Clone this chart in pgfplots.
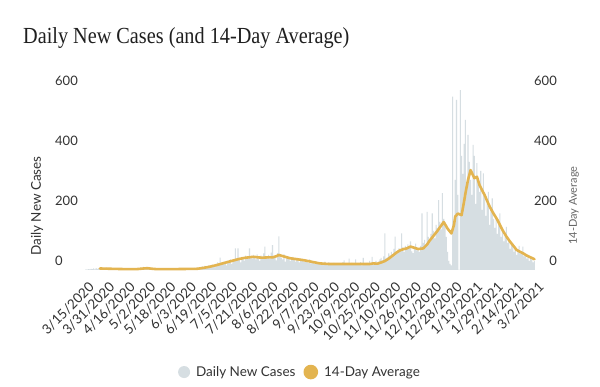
\documentclass[border=0pt]{standalone}
\usepackage{pgfplots}
\pgfplotsset{compat=1.18}
\usepackage{fontspec}
\setmainfont{Lato}
\newfontfamily\titlefont[FakeStretch=0.88]{Liberation Serif}
\definecolor{barcol}{RGB}{214,222,226}
\definecolor{linecol}{RGB}{227,180,80}
\definecolor{labgray}{RGB}{51,51,51}
\definecolor{lab2}{RGB}{102,102,102}
\begin{document}
\begin{tikzpicture}[x=1pt,y=1pt]
\useasboundingbox (0,0) rectangle (600,387);
\fill[white] (0,0) rectangle (600,387);
\node[anchor=base west, inner sep=0pt, font=\titlefont\fontsize{23}{27}\selectfont, text=black!88] at (23,343.7) {Daily New Cases (and 14-Day Average)};
\begin{axis}[
  at={(83.4pt,117pt)}, anchor=south west, scale only axis, width=453.6pt, height=180pt,
  xmin=-2, xmax=353, ymin=0, ymax=600, clip=false,
  axis line style={draw=none}, major tick length=0pt,
  /pgf/number format/assume math mode=true,
  xtick={0,16,...,352},
  xticklabels={3/15/2020,3/31/2020,4/16/2020,5/2/2020,5/18/2020,6/3/2020,6/19/2020,7/5/2020,7/21/2020,8/6/2020,8/22/2020,9/7/2020,9/23/2020,10/9/2020,10/25/2020,11/10/2020,11/26/2020,12/12/2020,12/28/2020,1/13/2021,1/29/2021,2/14/2021,3/2/2021},
  xticklabel style={xshift=2pt, yshift=-11pt, rotate=45, anchor=north east, inner sep=0pt, font=\fontsize{13.5}{15}\selectfont, text=labgray},
  ytick=\empty,
  ylabel={Daily New Cases},
  ylabel style={at={(axis description cs:-0.1023,0.3556)}, anchor=center, font=\fontsize{13.5}{15}\selectfont, text=labgray},
  legend style={at={(0.4775,-0.567)}, anchor=center, draw=none, fill=none, font=\fontsize{13.5}{15}\selectfont, text=labgray, legend columns=2, /tikz/every even column/.append style={column sep=6pt}},
  legend cell align=left,
]
\addplot[ybar, bar width=0.85, fill=barcol, draw=none, legend image code/.code={\fill[barcol] (6pt,0pt) circle (6pt); \path (16pt,0pt);}] coordinates {
(0,2)(1,1)(2,3)(3,2)(4,4)(5,3)(6,5)(7,2)(8,6)(9,4)(10,5)
(11,6)(12,4)(13,7)(14,5)(15,3)(16,8)(17,4)(18,2)(19,5)(20,6)
(21,3)(22,4)(23,2)(24,5)(25,3)(26,1)(27,4)(28,3)(29,2)(30,5)
(31,3)(32,2)(33,4)(34,1)(35,3)(36,2)(37,5)(38,3)(39,2)(40,4)
(41,3)(42,5)(43,8)(44,6)(45,10)(46,7)(47,9)(48,6)(49,4)(50,5)
(51,3)(52,2)(53,4)(54,3)(55,1)(56,2)(57,3)(58,4)(59,2)(60,3)
(61,2)(62,4)(63,1)(64,3)(65,2)(66,3)(67,5)(68,2)(69,1)(70,3)
(71,2)(72,4)(73,3)(74,1)(75,3)(76,2)(77,4)(78,3)(79,5)(80,2)
(81,4)(82,3)(83,6)(84,5)(85,7)(86,4)(87,8)
(88,6)(89,9)(90,5)(91,12)(92,8)(93,14)(94,10)(95,7)(96,15)(97,13)
(98,11)(99,18)(100,14)(101,9)(102,20)(103,25)(104,16)(105,41)(106,22)(107,19)
(108,28)(109,24)(110,15)(111,30)(112,27)(113,35)(114,20)(115,26)(116,33)(117,72)
(118,30)(119,72)(120,38)(121,25)(122,44)(123,40)(124,31)(125,48)(126,36)(127,42)
(128,72)(129,45)(130,38)(131,50)
(132,40)(133,35)(134,52)(135,46)(136,30)(137,48)(138,42)(139,55)(140,78)(141,38)
(142,44)(143,50)(144,36)(145,58)(146,83)(147,40)(148,45)(149,32)(150,56)(151,112)
(152,48)(153,40)(154,35)(155,52)(156,28)(157,45)(158,38)(159,42)(160,30)(161,36)
(162,44)(163,33)(164,28)(165,40)(166,35)(167,25)(168,38)(169,30)(170,36)(171,27)
(172,32)(173,28)(174,24)(175,35)(176,22)(177,30)(178,26)(179,20)(180,28)(181,24)
(182,22)(183,26)(184,18)(185,24)(186,20)(187,28)(188,16)(189,22)(190,25)(191,19)
(192,21)(193,18)(194,24)(195,20)(196,17)(197,23)(198,19)(199,22)
(200,18)(201,25)(202,32)(203,16)(204,22)(205,20)(206,38)(207,19)(208,24)(209,17)
(210,21)(211,35)(212,18)(213,23)(214,20)(215,26)(216,15)(217,40)(218,22)(219,19)
(220,24)(221,20)(222,30)(223,18)(224,44)(225,22)
(226,25)(227,30)(228,22)(229,28)(230,35)(231,40)(232,32)(233,45)(234,122)(235,38)
(236,42)(237,55)(238,48)(239,60)(240,52)(241,70)(242,111)(243,58)(244,65)(245,72)
(246,68)(247,122)(248,75)(249,60)(250,80)(251,70)
(252,85)(253,78)(254,95)(255,62)(256,56)(257,70)(258,88)(259,65)(260,72)(261,60)(262,80)(263,189)(264,90)
(265,100)(266,85)(267,194)(268,110)(269,95)(270,120)(271,189)(272,130)(273,105)(274,150)(275,140)(276,233)(277,160)(278,135)(279,256)(280,170)
(281,150)(282,110)(283,60)(284,30)(285,20)(286,15)(287,578)(288,150)(289,300)(290,567)(291,250)(292,0)(293,600)
(294,380)(295,320)(296,420)(297,500)(298,280)(299,450)(300,360)
(301,300)(302,250)(303,417)(304,380)(305,220)(306,356)(307,300)(308,260)(309,330)(310,200)
(311,322)(312,240)(313,180)(314,222)(315,260)(316,150)(317,200)(318,239)(319,170)(320,140)
(321,180)(322,120)(323,150)(324,189)(325,110)(326,130)(327,95)(328,120)(329,144)(330,90)
(331,100)(332,70)(333,85)(334,89)(335,60)(336,75)(337,50)(338,68)(339,80)(340,55)
(341,60)(342,78)(343,45)(344,50)(345,38)(346,44)(347,30)(348,42)(349,35)(350,25)(351,30)
};
\addlegendentry{Daily New Cases}
\addplot[linecol, line width=2.6pt, line join=round, line cap=round, legend image code/.code={\fill[linecol] (6pt,0pt) circle (6pt); \path (16pt,0pt);}] coordinates {
(11,5)(20,4)(30,3)(40,3)(45,5)(48,6)(52,4)(55,3)(70,3)(87,4)(92,7)(97,11)(102,16)(107,22)(113,29)(120,37)(125,41)(131,44)(135,42)(138,41)(142,42)(146,42)(149,46)(151,50)(155,45)(160,39)(165,36)(170,33)(176,28)(183,22)(190,20)(199,20)(210,20)(222,20)(225,22)(228,21)(231,25)(234,30)(237,38)(240,48)(243,58)(246,66)(249,70)(251,72)(254,78)(257,74)(260,70)(264,72)(267,85)(269,98)(272,114)(275,130)(277,142)(280,160)(283,138)(286,122)(288,150)(289,178)(291,188)(294,183)(296,230)(297,256)(299,300)(301,333)(303,315)(304,306)(306,311)(308,283)(310,266)(312,250)(314,230)(316,211)(319,188)(322,167)(324,150)(326,133)(329,112)(332,94)(335,78)(337,67)(340,60)(342,56)(345,48)(348,42)(351,36)
};
\addlegendentry{14-Day Average}
\end{axis}
% right-hand axis: 14-day average scale
\begin{axis}[
  at={(83.4pt,117pt)}, anchor=south west, scale only axis, width=453.6pt, height=180pt,
  xmin=-2, xmax=353, ymin=0, ymax=600,
  axis line style={draw=none}, major tick length=0pt, hide x axis,
  /pgf/number format/assume math mode=true,
  yticklabel pos=right,
  ytick={0,200,400,600}, yticklabels={0,200,400,600},
  yticklabel style={anchor=east, inner sep=0pt, xshift=20pt, yshift=9pt, font=\fontsize{13}{15}\selectfont, text=labgray},
  ylabel={14-Day Average},
  ylabel style={at={(axis description cs:1.0816,0.358)}, anchor=center, font=\fontsize{11}{13}\selectfont, text=lab2},
]
\addplot[draw=none] coordinates {(0,0)};
\end{axis}
% left-hand scale labels (left aligned, as in the reference)
\begin{axis}[
  at={(83.4pt,117pt)}, anchor=south west, scale only axis, width=453.6pt, height=180pt,
  xmin=-2, xmax=353, ymin=0, ymax=600,
  axis line style={draw=none}, major tick length=0pt, hide x axis,
  /pgf/number format/assume math mode=true,
  yticklabel pos=right,
  ytick={0,200,400,600}, yticklabels={0,200,400,600},
  yticklabel style={anchor=west, inner sep=0pt, xshift=-482pt, yshift=9pt, font=\fontsize{13}{15}\selectfont, text=labgray},
]
\addplot[draw=none] coordinates {(0,0)};
\end{axis}
\end{tikzpicture}
\end{document}
